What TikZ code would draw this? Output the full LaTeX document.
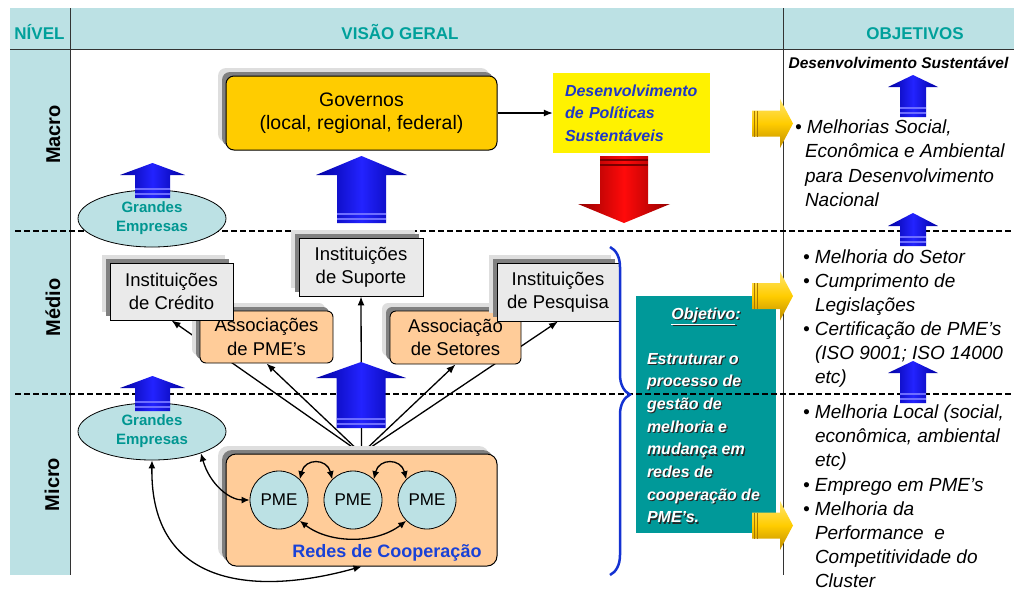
\documentclass[tikz,border=0pt]{standalone}
\usepackage{fontspec}
\setmainfont{Liberation Sans}
\usetikzlibrary{arrows.meta,shapes.geometric,shadows,decorations.pathreplacing}

\definecolor{bandcyan}{RGB}{188,225,228}
\definecolor{headteal}{RGB}{0,160,155}
\definecolor{govgold}{RGB}{255,204,0}
\definecolor{goldhi}{RGB}{255,230,110}
\definecolor{goldlo}{RGB}{190,140,0}
\definecolor{goldline}{RGB}{170,120,0}
\definecolor{peach}{RGB}{255,204,153}
\definecolor{instgray}{RGB}{234,234,234}
\definecolor{shlight}{RGB}{222,222,222}
\definecolor{shdark}{RGB}{128,128,128}
\definecolor{boxteal}{RGB}{0,153,153}
\definecolor{polblue}{RGB}{30,55,200}
\definecolor{redesblue}{RGB}{25,65,215}
\definecolor{bracecol}{RGB}{20,50,210}
\definecolor{gelabel}{RGB}{0,150,145}
\definecolor{bluedeep}{RGB}{0,0,160}
\definecolor{bluebright}{RGB}{35,35,255}
\definecolor{bluestr}{RGB}{110,110,255}
\definecolor{reddeep}{RGB}{150,0,0}
\definecolor{redbright}{RGB}{255,10,10}

\pgfdeclarelayer{bands}
\pgfdeclarelayer{rules}
\pgfdeclarelayer{overlay}
\pgfsetlayers{bands,rules,main,overlay}

% upward block arrow: centre x, tip y, half head width, head base y, half shaft width, foot y
\newcommand\blueup[6]{%
  \shade[left color=bluedeep, right color=bluedeep, middle color=bluebright]
    (#1-#5,#6) -- (#1-#5,#4) -- (#1-#3,#4) -- (#1,#2) -- (#1+#3,#4)
    -- (#1+#5,#4) -- (#1+#5,#6) -- cycle;
  \draw[bluestr, line width=1.2pt] (#1-#5,#6-4) -- (#1+#5,#6-4);
  \draw[bluestr, line width=1.2pt] (#1-#5,#6-9) -- (#1+#5,#6-9);
}
% right-pointing gold block arrow: left x, centre y
\newcommand\goldright[2]{%
  \shade[top color=goldhi, bottom color=goldlo, middle color=govgold]
    (#1,#2-13) -- (#1+28,#2-13) -- (#1+28,#2-24.5) -- (#1+41,#2)
    -- (#1+28,#2+24.5) -- (#1+28,#2+13) -- (#1,#2+13) -- cycle;
  \draw[goldline, line width=1pt] (#1+2,#2-13) -- (#1+2,#2+13);
  \draw[goldline, line width=1pt] (#1+5,#2-13) -- (#1+5,#2+13);
}
% white text with a dark drop shadow
\newcommand\shtxt[1]{\makebox[0pt][l]{\kern1.2pt\raisebox{-1.2pt}{\color{black!85}#1}}#1}

\begin{document}
\begin{tikzpicture}[x=1pt,y=-1pt,
  txt/.style={inner sep=0pt, outer sep=0pt},
  headtxt/.style={txt, font=\bfseries\fontsize{17}{20}\selectfont, text=headteal},
  leveltxt/.style={txt, rotate=90, anchor=base, font=\bfseries\fontsize{20}{24}\selectfont},
  shadowed/.style={general shadow={shadow xshift=-8pt,shadow yshift=8pt,fill=shlight,draw=none},
                   general shadow={shadow xshift=-4pt,shadow yshift=4pt,fill=shdark,draw=none}},
  instbox/.style={shadowed, draw=black, line width=0.9pt, fill=instgray, align=center,
                  inner sep=0pt, font=\fontsize{18.5}{23.5}\selectfont},
  assocbox/.style={instbox, fill=peach, rounded corners=6pt},
  gebox/.style={ellipse, draw=black, line width=0.8pt, fill=bandcyan, minimum width=148pt,
                minimum height=57pt, inner sep=0pt, align=center,
                font=\bfseries\fontsize{15}{19}\selectfont, text=gelabel},
  pme/.style={circle, draw=black, line width=0.8pt, fill=bandcyan, minimum size=58pt,
              inner sep=0pt, font=\fontsize{17}{20}\selectfont},
  objtxt/.style={txt, text=white, font=\bfseries\itshape\fontsize{16}{20}\selectfont},
  goaltxt/.style={txt, anchor=base west, font=\itshape\fontsize{19}{24}\selectfont},
  levelrule/.style={dash pattern=on 6pt off 3pt, line width=1.2pt},
  conn/.style={line width=1.3pt, -{Latex[length=9pt,width=7pt]}},
  twoway/.style={line width=1.3pt, {Latex[length=8pt,width=7pt]}-{Latex[length=8pt,width=7pt]}}
]
\useasboundingbox (0,0) rectangle (1014,590);

% ---------- table frame ----------
\begin{pgfonlayer}{bands}
  \fill[bandcyan] (10,8) rectangle (1014,49);
  \fill[bandcyan] (10,49) rectangle (70,575);
  \draw[line width=1.2pt, black!80] (10,49.5) -- (1014,49.5);
  \draw[line width=1pt, black!80] (70,8) -- (70,575);
  \draw[line width=1pt, black!80] (783,8) -- (783,575);
  \node[fill=boxteal, minimum width=140pt, minimum height=237pt, inner sep=0pt] (objbox) at (706,414.5) {};
\end{pgfonlayer}

\node[headtxt, anchor=base] (hnivel) at (39.5,39) {NÍVEL};
\node[headtxt, anchor=base] (hvisao) at (400,39) {VISÃO GERAL};
\node[headtxt, anchor=base] (hobj) at (915,39) {OBJETIVOS};

\node[leveltxt] (lmacro) at (60,134.5) {Macro};
\node[leveltxt] (lmedio) at (60,307.5) {Médio};
\node[leveltxt] (lmicro) at (59,484.5) {Micro};

% ---------- macro level ----------
\node[shadowed, draw=black, line width=1pt, fill=govgold, rounded corners=8pt,
      minimum width=271pt, minimum height=74pt, inner sep=0pt, align=center,
      font=\fontsize{19.5}{23}\selectfont] (gov) at (361.5,113)
      {Governos\\(local, regional, federal)};
\node[fill=yellow, minimum width=157pt, minimum height=80pt, text width=133pt,
      align=left, inner xsep=12pt, inner ysep=0pt,
      font=\bfseries\itshape\fontsize{16}{22.5}\selectfont, text=polblue] (pol) at (631.5,113)
      {Desenvolvimento\\de Políticas\\Sustentáveis};
\node[gebox] (ge1) at (152,218.5) {Grandes\\Empresas};

% ---------- middle level (associations first, institutions on top) ----------
\node[assocbox, minimum width=133pt, minimum height=52pt] (assocpme) at (266.5,337) {Associações\\de PME's};
\node[assocbox, minimum width=131pt, minimum height=53pt] (setores) at (455.5,337.5) {Associação\\de Setores};
\node[instbox, minimum width=123pt, minimum height=57pt] (credito) at (171.5,291.5) {Instituições\\de Crédito};
\node[instbox, minimum width=124pt, minimum height=58pt] (suporte) at (361,267) {Instituições\\de Suporte};
\node[instbox, minimum width=122pt, minimum height=58pt] (pesquisa) at (558,292) {Instituições\\de Pesquisa};

% ---------- micro level ----------
\node[gebox] (ge2) at (152,431.5) {Grandes\\Empresas};
\node[shadowed, draw=black, line width=1pt, fill=peach, rounded corners=10pt,
      minimum width=271pt, minimum height=112pt, inner sep=0pt] (redes) at (361.5,510) {};
\node[pme] (pme1) at (279,500) {PME};
\node[pme] (pme2) at (353,500) {PME};
\node[pme] (pme3) at (427,500) {PME};
\node[txt, anchor=base, font=\bfseries\fontsize{18}{22}\selectfont, text=redesblue] (redeslbl)
      at (387,557) {Redes de Cooperação};

% ---------- objective of the network ----------
\node[objtxt, anchor=base] (objhead) at (706,319) {\shtxt{\underline{Objetivo}:}};
\foreach \t [count=\i] in {Estruturar o, processo de, gestão de, melhoria e,
                           mudança em, redes de, cooperação de, PME's.}
  \node[objtxt, anchor=base west] (objl\i) at (647,{364+(\i-1)*22.7}) {\shtxt{\t}};

\coordinate (bracetop) at (610,247);
\coordinate (bracebot) at (610,575);
\draw[bracecol, line width=2.5pt, decorate,
      decoration={brace, amplitude=20pt, aspect=0.45}] (bracetop) -- (bracebot);

% ---------- objectives column ----------
\node[txt, anchor=base, font=\bfseries\itshape\fontsize{15.5}{19}\selectfont] (goaltop)
      at (898.5,68) {Desenvolvimento Sustentável};
\node[goaltxt] (g1a) at (795,133) {\textbullet{} Melhorias Social,};
\node[goaltxt] (g1b) at (805,157) {Econômica e Ambiental};
\node[goaltxt] (g1c) at (805,182) {para Desenvolvimento};
\node[goaltxt] (g1d) at (805,206) {Nacional};
\node[goaltxt] (g2a) at (803,263) {\textbullet{} Melhoria do Setor};
\node[goaltxt] (g2b) at (803,287) {\textbullet{} Cumprimento de};
\node[goaltxt] (g2c) at (815,311) {Legislações};
\node[goaltxt] (g2d) at (803,335) {\textbullet{} Certificação de PME's};
\node[goaltxt] (g2e) at (815,359) {(ISO 9001; ISO 14000};
\node[goaltxt] (g2f) at (815,383) {etc)};
\node[goaltxt] (g3a) at (803,418) {\textbullet{} Melhoria Local (social,};
\node[goaltxt] (g3b) at (815,442) {econômica, ambiental};
\node[goaltxt] (g3c) at (815,466) {etc)};
\node[goaltxt] (g3d) at (803,491) {\textbullet{} Emprego em PME's};
\node[goaltxt] (g3e) at (803,515) {\textbullet{} Melhoria da};
\node[goaltxt] (g3f) at (815,539) {Performance\ \ e};
\node[goaltxt] (g3g) at (815,563) {Competitividade do};
\node[goaltxt] (g3h) at (815,587) {Cluster};

% ---------- block arrows ----------
\blueup{152.5}{163}{32.5}{175}{17.5}{198}
\blueup{361.5}{156}{45.5}{175}{24.5}{223}
\blueup{152.5}{376}{32.5}{388}{17.5}{411}
\blueup{361}{362}{45}{378}{24.5}{428}
\blueup{913}{75}{25}{87}{13}{117}
\blueup{913}{213}{25}{226}{13}{246}
\blueup{913}{361}{25}{373}{13}{403}

\shade[left color=reddeep, right color=reddeep, middle color=redbright]
  (600,156) -- (648,156) -- (648,204) -- (670,204) -- (624,223) -- (578,204) -- (600,204) -- cycle;
\draw[reddeep!80!black, line width=1.2pt] (600,160) -- (648,160);
\draw[reddeep!80!black, line width=1.2pt] (600,165) -- (648,165);

\goldright{752}{123.5}
\goldright{752}{296}
\goldright{752}{525.5}

% ---------- level separators and connectors ----------
\begin{pgfonlayer}{rules}
  \draw[levelrule] (15,231) -- (1014,231);
  \draw[levelrule] (15,394) -- (1014,394);
  \draw[conn] (gov.east) -- (pol.west);
  \draw[conn] (redes.north) -- (credito.south);
  \draw[conn] (redes.north) -- (assocpme.south);
  \draw[conn] (redes.north) -- (suporte.south);
  \draw[conn] (redes.north) -- (setores.south);
  \draw[conn] (redes.north) -- (pesquisa.south);
\end{pgfonlayer}

\begin{pgfonlayer}{overlay}
  \draw[twoway] (ge2.-24) .. controls (210,485) and (230,500) .. (pme1.west);
  \draw[twoway] (ge2.south) .. controls (150,590) and (260,595) .. (redes.south);
  \draw[twoway] (pme1.45) .. controls (305,458) and (327,458) .. (pme2.135);
  \draw[twoway] (pme2.45) .. controls (379,458) and (401,458) .. (pme3.135);
  \draw[twoway] (pme1.-45) .. controls (330,544) and (376,544) .. (pme3.-135);
\end{pgfonlayer}
\end{tikzpicture}
\end{document}
